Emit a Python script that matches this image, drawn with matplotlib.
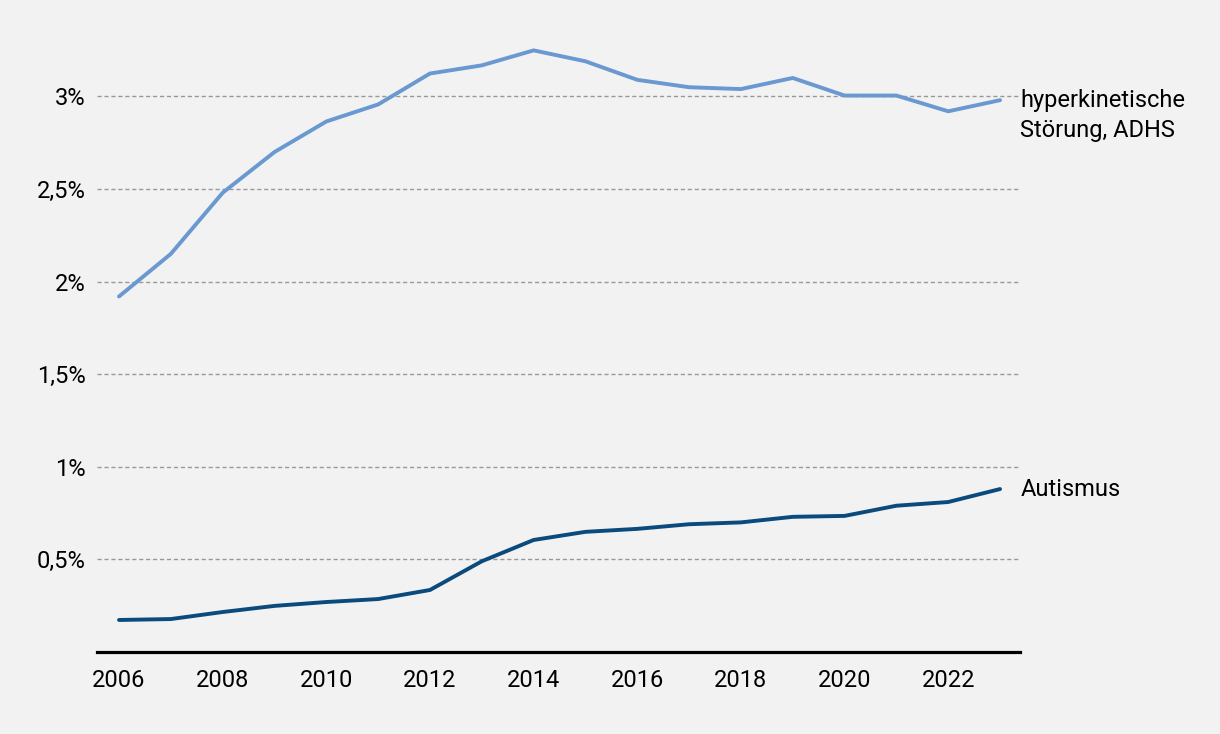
import matplotlib.pyplot as plt

plt.rcParams['font.family'] = ['Roboto', 'DejaVu Sans']

years = list(range(2006, 2024))
adhs = [1.92, 2.15, 2.48, 2.70, 2.865, 2.957, 3.124, 3.168, 3.249, 3.19,
        3.09, 3.05, 3.04, 3.10, 3.005, 3.005, 2.92, 2.98]
autismus = [0.173, 0.178, 0.216, 0.249, 0.27, 0.286, 0.335, 0.49, 0.605, 0.649,
            0.665, 0.69, 0.70, 0.73, 0.735, 0.79, 0.81, 0.88]
yticks = [0.5, 1, 1.5, 2, 2.5, 3]
ytick_labels = ['0,5%', '1%', '1,5%', '2%', '2,5%', '3%']
xticks = list(range(2006, 2023, 2))

BG = '#f2f2f2'
C_ADHS = '#6a98d0'
C_AUT = '#0b4a7c'

fig = plt.figure(figsize=(12.2, 7.34), dpi=100, facecolor=BG)
ax = fig.add_axes([0.0795, 0.1117, 0.7566, 0.883], facecolor=BG)

ax.plot(years, adhs, color=C_ADHS, lw=2.8, solid_capstyle='round', zorder=3)
ax.plot(years, autismus, color=C_AUT, lw=2.8, solid_capstyle='round', zorder=3)

ax.set_xlim(2005.575, 2023.386)
ax.set_ylim(0, 3.5)

ax.set_yticks(yticks)
ax.set_yticklabels(ytick_labels)
ax.set_xticks(xticks)
ax.tick_params(axis='y', length=0, pad=8, labelsize=17)
ax.tick_params(axis='x', length=0, pad=12, labelsize=17)

for y in yticks:
    ax.axhline(y, color='#999999', lw=1, ls=(0, (3, 2)), zorder=1)

for s in ['top', 'right', 'left']:
    ax.spines[s].set_visible(False)
ax.spines['bottom'].set_linewidth(2.3)
ax.spines['bottom'].set_color('black')

ax.annotate('hyperkinetische\nStörung, ADHS', xy=(years[-1], adhs[-1]),
            xytext=(14.5, 8), textcoords='offset points', va='top', ha='left',
            fontsize=17, linespacing=1.38, annotation_clip=False)
ax.annotate('Autismus', xy=(years[-1], autismus[-1]),
            xytext=(14.5, 0), textcoords='offset points', va='center', ha='left',
            fontsize=17, annotation_clip=False)

fig.savefig('out.png', dpi=100, facecolor=BG)
